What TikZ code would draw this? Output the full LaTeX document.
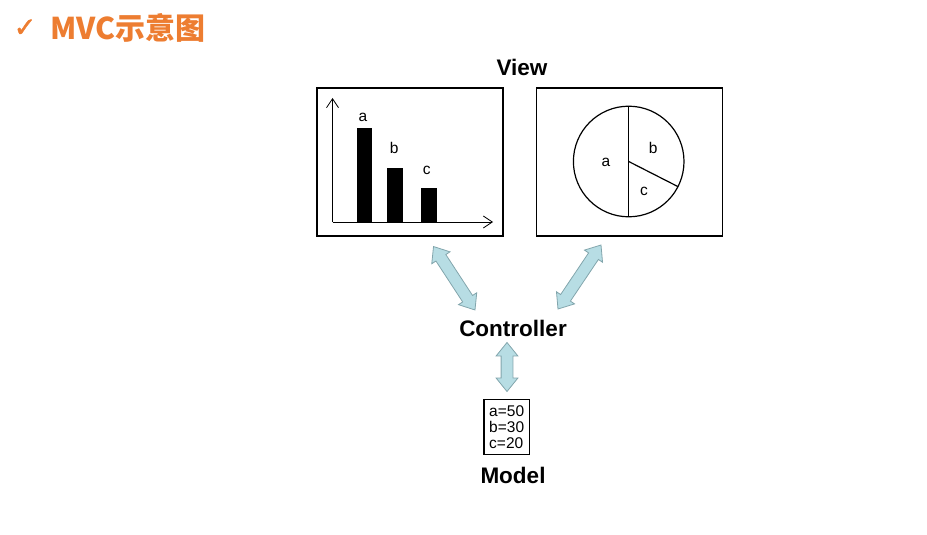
\documentclass[tikz,border=0pt]{standalone}
\usepackage{fontspec}
\setmainfont{Liberation Sans}
\newfontfamily\cjk{Noto Sans CJK SC Black}
\newfontfamily\symb{DejaVu Sans}[FakeBold=1.5]
\usetikzlibrary{arrows.meta,shapes.arrows,calc}
\definecolor{titleorange}{RGB}{237,125,49}
\definecolor{arrowfill}{RGB}{183,221,228}
\definecolor{arrowline}{RGB}{130,165,172}
\tikzset{
  viewbox/.style={draw, line width=1.3pt, minimum width=186pt, minimum height=148pt, inner sep=0pt},
  heading/.style={font=\fontsize{22.5}{24}\selectfont\bfseries},
  smalltext/.style={font=\fontsize{15.5}{16}\selectfont, inner sep=0pt},
  linkarrow/.style={double arrow, draw=arrowline, fill=arrowfill, line width=0.8pt,
    inner xsep=0pt, inner ysep=5.5pt, minimum width=0pt,
    double arrow head extend=5pt, double arrow tip angle=78},
  axis/.style={line width=0.8pt, -{Straight Barb[length=9pt,width=12pt]}}
}
\begin{document}
\begin{tikzpicture}[x=1pt,y=-1pt]
\useasboundingbox (0,0) rectangle (927,535);
% title
\node[text=titleorange, font=\symb\fontsize{27}{28}\selectfont] (tick) at (25,28) {✓};
\node[text=titleorange, font=\cjk\fontsize{30}{32}\selectfont, anchor=west, inner sep=0pt] (title) at (50,28) {MVC示意图};
% view
\node[heading] (view) at (522,67) {View};
\node[viewbox] (barview) at (410,162) {};
\node[viewbox] (pieview) at (629.5,162) {};
% bar chart
\coordinate (origin) at (332.5,222);
\draw[axis] (origin) -- (332.5,98);
\draw[axis] (origin) -- (493,222);
\fill (356.7,222) rectangle (372.3,128.3);
\fill (387.3,222) rectangle (403.3,167.7);
\fill (420.7,222) rectangle (436.7,187.7);
\node[smalltext] (bara) at (363,117) {a};
\node[smalltext] (barb) at (394.3,147.7) {b};
\node[smalltext] (barc) at (426.7,170.7) {c};
% pie chart
\coordinate (pie) at (628.7,161.5);
\draw[line width=1.2pt] (pie) circle[radius=55.3pt];
\draw[line width=1.2pt] ($(pie)+(0,-55.3)$) -- ($(pie)+(0,55.3)$);
\draw[line width=1.2pt] (pie) -- ($(pie)+(-27:55.3pt)$);
\node[smalltext] (piea) at (606,162.7) {a};
\node[smalltext] (pieb) at (653.3,148.3) {b};
\node[smalltext] (piec) at (644,191.7) {c};
% controller and model
\node[heading] (controller) at (513,328) {Controller};
\node[draw, line width=1.1pt, smalltext, align=left, minimum width=45.5pt, minimum height=55pt] (data) at (506.7,426.8) {a=50\\b=30\\c=20};
\node[heading] (model) at (513,475) {Model};
% links
\coordinate (barend) at (433.5,246.5);
\coordinate (barctl) at (475,310);
\coordinate (pieend) at (601,245);
\coordinate (piectl) at (558,309);
\coordinate (ctlend) at (507,342.5);
\coordinate (modelend) at (507,391.5);
\path let \p1=($(barctl)-(barend)$), \n1={atan2(\y1,\x1)}, \n2={veclen(\x1,\y1)} in
  node[linkarrow, rotate=\n1, minimum height=\n2] (barlink) at ($(barend)!0.5!(barctl)$) {};
\path let \p1=($(piectl)-(pieend)$), \n1={atan2(\y1,\x1)}, \n2={veclen(\x1,\y1)} in
  node[linkarrow, rotate=\n1, minimum height=\n2] (pielink) at ($(pieend)!0.5!(piectl)$) {};
\path let \p1=($(modelend)-(ctlend)$), \n1={atan2(\y1,\x1)}, \n2={veclen(\x1,\y1)} in
  node[linkarrow, rotate=\n1, minimum height=\n2] (modellink) at ($(ctlend)!0.5!(modelend)$) {};
\end{tikzpicture}
\end{document}
